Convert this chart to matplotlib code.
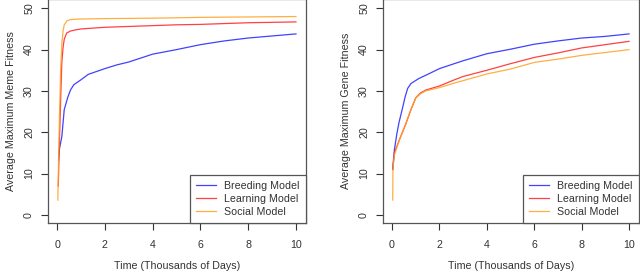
import matplotlib
matplotlib.use("Agg")
import matplotlib.pyplot as plt

plt.rcParams['font.family'] = ['Liberation Sans', 'DejaVu Sans']

# Average maximum meme fitness (left panel)
meme_breed_x = [0.06, 0.1, 0.2, 0.3, 0.45, 0.56, 0.7, 1.0, 1.3, 2.0, 2.5, 3, 4, 5, 6, 7, 8, 9, 10]
meme_breed_y = [13.3, 16, 19, 25.5, 28.5, 30.2, 31.5, 32.7, 34, 35.4, 36.3, 37, 38.9, 40, 41.2, 42.1, 42.8, 43.3, 43.8]
meme_learn_x = [0.05, 0.08, 0.12, 0.16, 0.2, 0.25, 0.3, 0.4, 0.56, 0.8, 1.0, 2, 3, 4, 5, 6, 7, 8, 9, 10]
meme_learn_y = [7, 14, 22, 30, 37, 40.5, 42.5, 44, 44.5, 44.8, 45, 45.4, 45.6, 45.8, 46, 46.1, 46.3, 46.5, 46.6, 46.7]
meme_social_x = [0.03, 0.06, 0.1, 0.15, 0.2, 0.25, 0.3, 0.42, 0.6, 1, 2, 4, 6, 8, 10]
meme_social_y = [3.6, 12, 24, 35, 41.5, 44.5, 46, 47, 47.3, 47.4, 47.5, 47.6, 47.8, 47.9, 48]

# Average maximum gene fitness (right panel)
gene_breed_x = [0.03, 0.05, 0.1, 0.2, 0.3, 0.45, 0.55, 0.66, 0.8, 1.13, 1.5, 2, 2.68, 3, 4, 5, 6, 7, 8, 9, 10]
gene_breed_y = [11, 12.5, 15.7, 19.5, 22.5, 26, 28.5, 30.6, 31.8, 33, 34, 35.4, 36.7, 37.3, 39, 40.1, 41.3, 42.1, 42.8, 43.2, 43.8]
gene_learn_x = [0.03, 0.1, 0.3, 0.58, 0.8, 1.0, 1.2, 1.42, 2, 2.68, 3, 4, 5, 6, 7, 8, 9, 10]
gene_learn_y = [11, 15, 18, 22, 25.5, 28.3, 29.5, 30.2, 31.2, 32.8, 33.5, 35, 36.6, 38.1, 39.2, 40.4, 41.2, 42]
gene_social_x = [0.03, 0.04, 0.1, 0.3, 0.58, 0.8, 1.0, 1.2, 1.42, 2, 2.68, 3, 4, 5, 6, 7, 8, 9, 10]
gene_social_y = [3.6, 11.3, 14.5, 18, 22, 25.5, 28.3, 29.3, 30, 30.8, 32, 32.5, 34.1, 35.3, 36.9, 37.7, 38.6, 39.3, 40]

labels = ["Breeding Model", "Learning Model", "Social Model"]
colors = ["#2020ff", "#ff2020", "#ffa020"]
x_ticks = [0, 2, 4, 6, 8, 10]
y_ticks = [0, 10, 20, 30, 40, 50]

fig = plt.figure(figsize=(6.4, 2.73), dpi=100)
ax1 = fig.add_axes([48 / 640, 1 - 223 / 273, 258 / 640, 223 / 273 + 0.003])
ax2 = fig.add_axes([383 / 640, 1 - 223 / 273, 256 / 640, 223 / 273 + 0.003])

panels = [
    (ax1, [(meme_breed_x, meme_breed_y), (meme_learn_x, meme_learn_y), (meme_social_x, meme_social_y)],
     "Average Maximum Meme Fitness"),
    (ax2, [(gene_breed_x, gene_breed_y), (gene_learn_x, gene_learn_y), (gene_social_x, gene_social_y)],
     "Average Maximum Gene Fitness"),
]

fs = 7.7
for ax, series, ylabel in panels:
    for (xs, ys), lab, c in zip(series, labels, colors):
        ax.plot(xs, ys, color=c, lw=0.9, alpha=0.85, label=lab)
    ax.set_xlim(-0.38, 10.42)
    ax.set_ylim(-1.95, 52.2)
    ax.set_xticks(x_ticks)
    ax.set_yticks(y_ticks)
    ax.tick_params(axis='both', direction='out', length=5, width=0.8, colors='#333333',
                   labelsize=fs, pad=5)
    ax.tick_params(axis='x', pad=7)
    for lbl in ax.get_yticklabels():
        lbl.set_rotation(90)
        lbl.set_va('center')
    for sp in ax.spines.values():
        sp.set_color('#555555')
        sp.set_linewidth(0.9)
    ax.set_xlabel("Time (Thousands of Days)", fontsize=fs, color='#333333', labelpad=8)
    ax.set_ylabel(ylabel, fontsize=fs, color='#333333', labelpad=6)
    leg = ax.legend(loc='lower right', borderaxespad=0, fancybox=False, framealpha=1,
                    edgecolor='#555555', fontsize=fs, handlelength=1.8, handletextpad=0.8,
                    labelspacing=0.25, borderpad=0.6)
    leg.get_frame().set_linewidth(0.9)
    for t in leg.get_texts():
        t.set_color('#333333')

fig.savefig("out.png", dpi=100)
